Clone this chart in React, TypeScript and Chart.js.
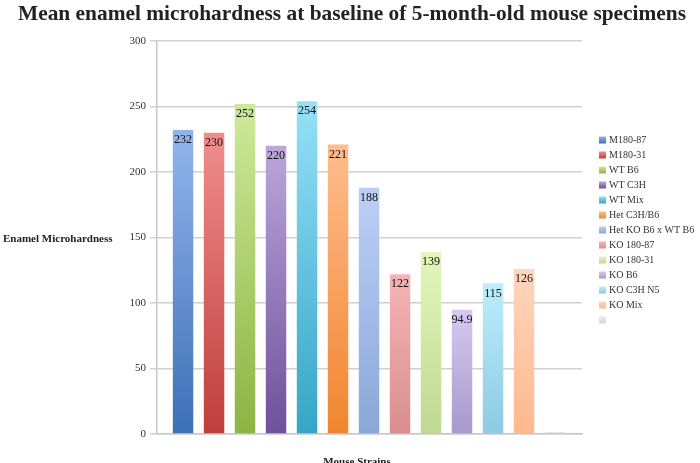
import React, { useEffect, useRef } from "react";
import { Chart, registerables } from "chart.js";

Chart.register(...registerables);

const strains = [
  "M180-87",
  "M180-31",
  "WT B6",
  "WT C3H",
  "WT Mix",
  "Het C3H/B6",
  "Het KO B6 x WT B6",
  "KO 180-87",
  "KO 180-31",
  "KO B6",
  "KO C3H N5",
  "KO Mix",
  "",
];
const hardness = [232, 230, 252, 220, 254, 221, 188, 122, 139, 94.9, 115, 126, 1.5];
const valueLabels = ["232", "230", "252", "220", "254", "221", "188", "122", "139", "94.9", "115", "126", ""];
const topColors = [
  "#92B6EC", "#F08E8C", "#CFE99A", "#BCA6DA", "#96E0F8", "#FFBC8E",
  "#BCD0F6", "#F6B4B4", "#E4F6BA", "#D6C8F0", "#BCEEFC", "#FFD6BE", "#EAEAEA",
];
const bottomColors = [
  "#3D6FB6", "#BE3E3B", "#8CB443", "#6F509C", "#35A6C6", "#F0862F",
  "#8AA7D8", "#D98E8E", "#BDD993", "#A898CC", "#8DCAE3", "#FFB88E", "#D8D8D8",
];
const yTicks = [0, 50, 100, 150, 200, 250, 300];

const titleText = "Mean enamel microhardness at baseline of 5-month-old mouse specimens";
const yTitle = "Enamel Microhardness";
const xTitle = "Mouse Strains";

export default function App() {
  const ref = useRef<HTMLCanvasElement | null>(null);

  useEffect(() => {
    const canvas = ref.current;
    if (!canvas) return;

    const decor = {
      id: "decor",
      afterDraw(chart: any) {
        const ctx = chart.ctx;
        ctx.save();
        // title
        ctx.fillStyle = "#222";
        ctx.font = "bold 22px 'Liberation Serif', serif";
        ctx.textBaseline = "middle";
        ctx.textAlign = "left";
        const w = ctx.measureText(titleText).width;
        const sx = 668 / w;
        ctx.save();
        ctx.translate(18, 14);
        ctx.scale(sx, 1);
        ctx.fillText(titleText, 0, 0);
        ctx.restore();

        // axis titles
        ctx.font = "bold 11px 'Liberation Serif', serif";
        ctx.fillStyle = "#222";
        ctx.textAlign = "left";
        ctx.fillText(yTitle, 3, 239);
        ctx.textAlign = "center";
        ctx.fillText(xTitle, 357, 462);

        // legend
        ctx.font = "10px 'Liberation Serif', serif";
        ctx.textAlign = "left";
        strains.forEach((s, i) => {
          const y = 140 + i * 15;
          const g = ctx.createLinearGradient(0, y - 3.5, 0, y + 3.5);
          g.addColorStop(0, topColors[i]);
          g.addColorStop(1, bottomColors[i]);
          ctx.fillStyle = g;
          ctx.fillRect(599, y - 3.5, 7, 7);
          ctx.fillStyle = "#333";
          ctx.fillText(s, 609, y + 0.5);
        });

        // value labels
        const meta = chart.getDatasetMeta(0);
        ctx.font = "12px 'Liberation Serif', serif";
        ctx.fillStyle = "#111";
        ctx.textAlign = "center";
        ctx.textBaseline = "middle";
        meta.data.forEach((el: any, i: number) => {
          if (!valueLabels[i]) return;
          ctx.fillText(valueLabels[i], el.x, el.y + 10);
        });
        ctx.restore();
      },
    };

    const chart = new Chart(canvas, {
      type: "bar",
      data: {
        datasets: [
          {
            data: hardness.map((v, i) => ({ x: i, y: v })),
            backgroundColor: (c: any) => {
              const chart = c.chart;
              const ys = chart.scales?.y;
              const i = c.dataIndex;
              if (!ys || !chart.chartArea || i === undefined) return bottomColors[i ?? 0];
              const top = ys.getPixelForValue(hardness[i]);
              const bot = ys.getPixelForValue(0);
              if (!isFinite(top) || !isFinite(bot) || bot - top < 1) return bottomColors[i];
              const g = chart.ctx.createLinearGradient(0, top, 0, bot);
              g.addColorStop(0, topColors[i]);
              g.addColorStop(1, bottomColors[i]);
              return g;
            },
            borderWidth: 0,
            barPercentage: 0.66,
            categoryPercentage: 1,
          },
        ],
      },
      options: {
        animation: false,
        responsive: false,
        devicePixelRatio: 1,
        layout: { padding: { left: 0, right: 118, top: 41, bottom: 29 } },
        plugins: {
          legend: { display: false },
          title: { display: false },
          tooltip: { enabled: false },
        },
        scales: {
          x: {
            type: "linear",
            min: -0.84,
            max: 12.87,
            offset: false,
            grid: { display: false, drawTicks: false },
            ticks: { display: false },
            border: { display: true, color: "#C8C8C8", width: 1.5 },
          },
          y: {
            min: 0,
            max: 300,
            afterFit: (s: any) => {
              s.width = 157;
            },
            afterBuildTicks: (s: any) => {
              s.ticks = yTicks.map((v) => ({ value: v }));
            },
            ticks: {
              color: "#333",
              font: { family: "'Liberation Serif', serif", size: 11 },
              padding: 4,
            },
            grid: { color: "#D0D0D0", lineWidth: 1.5, tickLength: 7 },
            border: { display: true, color: "#C8C8C8", width: 1.5 },
          },
        },
      },
      plugins: [decor],
    });

    return () => chart.destroy();
  }, []);

  return (
    <div style={{ position: "absolute", left: 0, top: 0, width: 700, height: 463, background: "#fff" }}>
      <canvas ref={ref} width={700} height={463} style={{ width: 700, height: 463, display: "block" }} />
    </div>
  );
}
